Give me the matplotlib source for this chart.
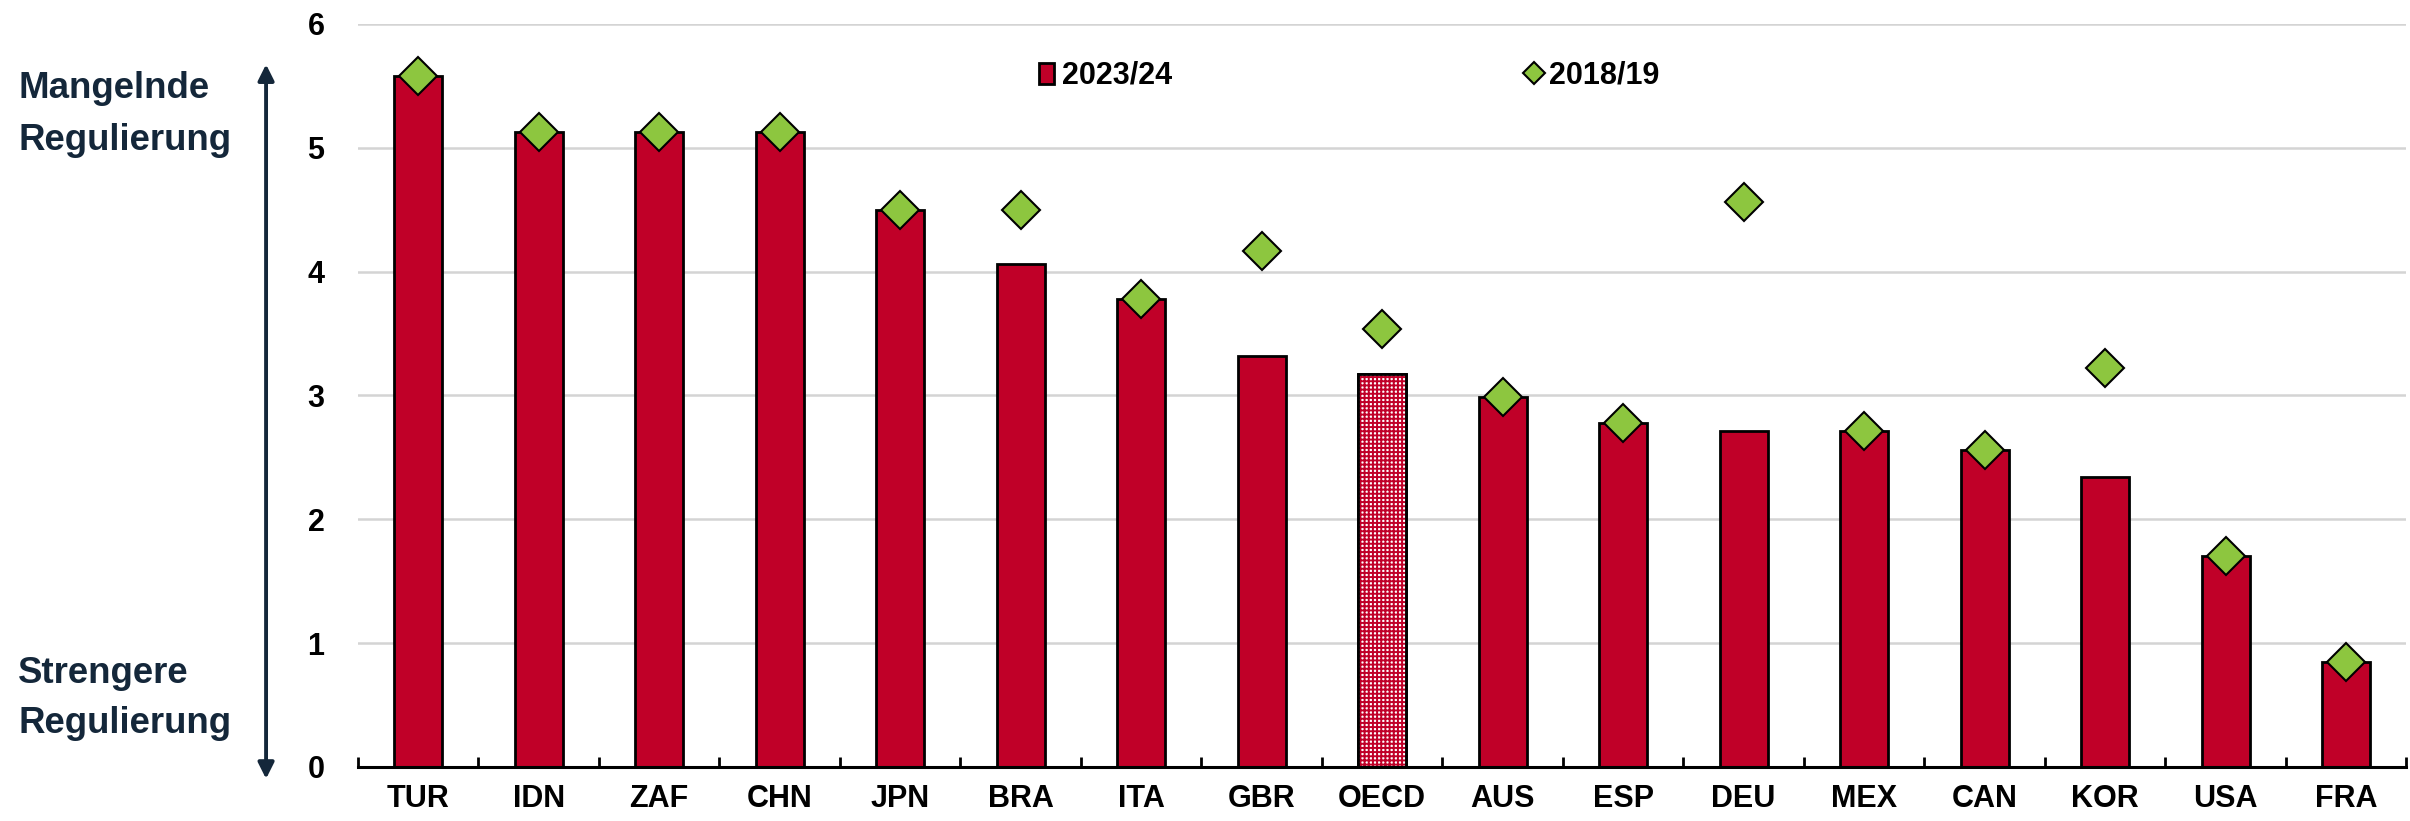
import matplotlib.pyplot as plt
from matplotlib import font_manager
from matplotlib.patches import FancyArrowPatch
import numpy as np

countries = ['TUR', 'IDN', 'ZAF', 'CHN', 'JPN', 'BRA', 'ITA', 'GBR', 'OECD',
             'AUS', 'ESP', 'DEU', 'MEX', 'CAN', 'KOR', 'USA', 'FRA']
vals_2023 = [5.58, 5.13, 5.13, 5.13, 4.50, 4.06, 3.78, 3.32, 3.17,
             2.99, 2.78, 2.71, 2.71, 2.56, 2.34, 1.70, 0.85]
vals_2018 = [5.58, 5.13, 5.13, 5.13, 4.50, 4.50, 3.78, 4.17, 3.54,
             2.99, 2.78, 4.56, 2.71, 2.56, 3.22, 1.70, 0.85]

RED = '#C00028'
GREEN = '#8DC63F'
NAVY = '#14273A'

plt.rcParams['hatch.linewidth'] = 1.4


def pick_font():
    # prefer a narrow bold face like the original, else plain Liberation Sans
    for fam in ['Liberation Sans Narrow', 'DejaVu Sans Condensed']:
        try:
            font_manager.findfont(font_manager.FontProperties(family=fam),
                                  fallback_to_default=False)
            return fam, 1.0
        except ValueError:
            pass
    return 'Liberation Sans', 0.88


def main():
    fam, k = pick_font()
    tick_fs = 25 * k
    side_fs = 30 * k

    fig = plt.figure(figsize=(24.1, 8.21), dpi=100)
    ax = fig.add_axes([0.1485, 0.0658, 0.8500, 0.9050])

    x = np.arange(len(countries))
    oecd = countries.index('OECD')
    colors = [RED if c != 'OECD' else 'white' for c in countries]

    bars = ax.bar(x, vals_2023, width=0.40, color=colors, edgecolor='black',
                  linewidth=2, zorder=2, label='2023/24')
    # checkered fill for OECD average
    ax.bar(x[oecd], vals_2023[oecd], width=0.40, color='white', edgecolor=RED,
           hatch='++++', linewidth=0, zorder=2)
    ax.bar(x[oecd], vals_2023[oecd], width=0.40, fill=False, edgecolor='black',
           linewidth=2, zorder=3)

    dots, = ax.plot(x, vals_2018, linestyle='none', marker='D', markersize=19,
                    markerfacecolor=GREEN, markeredgecolor='black',
                    markeredgewidth=1.5, zorder=4, label='2018/19')

    ax.set_xlim(-0.5, len(countries) - 0.5)
    ax.set_ylim(0, 6)
    ax.set_yticks(range(0, 7))
    ax.grid(True, axis='y', color='#D4D4D4', linewidth=1.8, zorder=0)
    ax.set_axisbelow(True)

    for s in ['left', 'right', 'top']:
        ax.spines[s].set_visible(False)
    ax.spines['bottom'].set_linewidth(2.2)

    ax.set_xticks(x)
    ax.set_xticklabels(countries, fontsize=tick_fs, fontweight='bold', family=fam)
    ax.tick_params(axis='x', which='major', length=0, pad=12)
    ax.set_xticks(np.arange(-0.5, len(countries), 1), minor=True)
    ax.tick_params(axis='x', which='minor', direction='in', length=7, width=2)
    ax.tick_params(axis='y', length=0, pad=24)
    for lab in ax.get_yticklabels():
        lab.set_fontsize(tick_fs)
        lab.set_fontweight('bold')
        lab.set_family(fam)

    ax.legend([bars, dots], ['2023/24', '2018/19'], loc='center left',
              bbox_to_anchor=(0.3325, 0.93), ncol=2, frameon=False,
              columnspacing=11.6, handlelength=0.5, handleheight=0.7,
              handletextpad=0.25, borderpad=0, borderaxespad=0, markerscale=0.6,
              prop={'family': fam, 'weight': 'bold', 'size': tick_fs})

    side = [('Mangelnde', 0.8806), ('Regulierung', 0.8173),
            ('Strengere', 0.1681), ('Regulierung', 0.1072)]
    for txt, yy in side:
        fig.text(0.0075, yy, txt, fontsize=side_fs, fontweight='bold',
                 family=fam, color=NAVY, va='baseline', ha='left')
    fig.add_artist(FancyArrowPatch(
        (0.1104, 0.048), (0.1104, 0.925), transform=fig.transFigure,
        arrowstyle='<|-|>', mutation_scale=24, color=NAVY, linewidth=2.8))

    fig.savefig('out.png', dpi=100)


if __name__ == '__main__':
    main()
